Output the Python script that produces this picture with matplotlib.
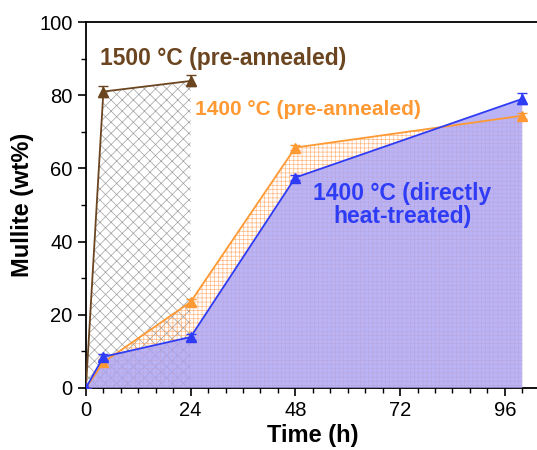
import matplotlib
matplotlib.use("Agg")
import matplotlib.pyplot as plt
from matplotlib.ticker import MultipleLocator

plt.rcParams['font.family'] = ['Liberation Sans', 'DejaVu Sans']
plt.rcParams['hatch.linewidth'] = 0.5

# data
t_1500 = [0, 4, 24]
m_1500 = [0, 81.0, 83.9]
e_1500 = [0, 1.5, 1.5]

t_1400p = [0, 4, 24, 48, 100]
m_1400p = [0, 7.0, 23.5, 65.7, 74.4]
e_1400p = [0, 0.8, 0.8, 0.8, 0.8]

t_1400d = [0, 4, 24, 48, 100]
m_1400d = [0, 8.5, 13.9, 57.5, 79.0]
e_1400d = [0, 0.8, 0.8, 0.8, 1.5]

c_brown = '#6b4520'
c_orange = '#ff9933'
c_blue = '#2f3cf5'

fig = plt.figure(figsize=(5.37, 4.5), dpi=100)
ax = fig.add_axes([0.160, 0.138, 0.845, 0.813])

# filled areas
ax.fill_between(t_1500, m_1500, 0, facecolor='white', edgecolor='#a0a0a0',
                hatch='xxx', linewidth=0, zorder=1)
ax.fill_between(t_1400p, m_1400p, 0, facecolor='none',
                edgecolor=(1.0, 0.6, 0.3, 0.7), hatch='++++', linewidth=0, zorder=2)
ax.fill_between(t_1400d, m_1400d, 0, facecolor='#a9a2f6', alpha=0.8,
                linewidth=0, zorder=3)

for t, m, e, c in [(t_1500, m_1500, e_1500, c_brown),
                   (t_1400p, m_1400p, e_1400p, c_orange),
                   (t_1400d, m_1400d, e_1400d, c_blue)]:
    ax.errorbar(t, m, yerr=e, color=c, marker='^', markersize=7, lw=1.3,
                capsize=3.5, elinewidth=1.2, zorder=5)

ax.text(3.2, 90, '1500 °C (pre-annealed)', color=c_brown, fontsize=16.5,
        fontweight='bold', va='center')
ax.text(25, 76, '1400 °C (pre-annealed)', color=c_orange, fontsize=15,
        fontweight='bold', va='center')
ax.text(72.5, 50, '1400 °C (directly\nheat-treated)', color=c_blue, fontsize=16.5,
        fontweight='bold', va='center', ha='center', multialignment='center',
        linespacing=1.05)

ax.set_xlim(0, 104)
ax.set_ylim(0, 100)
ax.set_xticks([0, 24, 48, 72, 96])
ax.xaxis.set_minor_locator(MultipleLocator(4))
ax.yaxis.set_major_locator(MultipleLocator(20))
ax.yaxis.set_minor_locator(MultipleLocator(10))
ax.tick_params(which='major', direction='out', length=6, width=1.2, labelsize=14.5)
ax.tick_params(which='minor', direction='out', length=3.5, width=1.0)
for s in ax.spines.values():
    s.set_linewidth(1.3)
ax.set_xlabel('Time (h)', fontsize=17, fontweight='bold', labelpad=3)
ax.set_ylabel('Mullite (wt%)', fontsize=17, fontweight='bold', labelpad=4)

fig.savefig('out.png', dpi=100)
